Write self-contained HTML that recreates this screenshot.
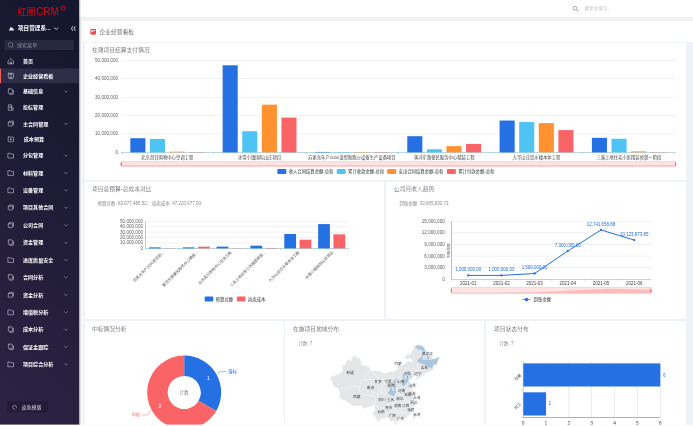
<!DOCTYPE html>
<html lang="zh-CN"><head><meta charset="utf-8"><title>企业经营看板 - 红圈CRM</title>
<style>
html,body{margin:0;padding:0;}
html{overflow:hidden;}body{width:693px;height:426px;overflow:hidden;position:relative;background:#f1f1f1;font-family:"Liberation Sans","Noto Sans CJK SC",sans-serif;}
#root{position:absolute;left:-8px;top:-8px;width:709px;height:442px;overflow:hidden;background:#f1f1f1;filter:blur(0.35px);}
#page{position:absolute;left:8px;top:8px;width:693px;height:426px;}
.abs{position:absolute;}
#sideback{left:-8px;top:-8px;width:86.8px;height:442px;background:linear-gradient(180deg,#15172e,#2b2141);}
#sidebar{left:0;top:0;width:78.8px;height:426px;background:linear-gradient(225deg,rgb(19,22,44),rgb(46,35,68));box-shadow:0.6px 0 1.2px rgba(0,0,0,.35);}
#topbar{left:79px;top:-8px;width:622px;height:25px;background:#fff;}
#gutter{left:79px;top:21px;width:4px;height:405px;background:#f6f6f6;}
#pagehead{left:83px;top:21px;width:618px;height:21.3px;background:#fff;}
#dash{left:83px;top:42.3px;width:618px;height:392px;background:#eef2f9;}
.panel{position:absolute;background:#fff;}
svg{position:absolute;left:0;top:0;overflow:visible;}
svg text{font-family:'Liberation Sans','Noto Sans CJK SC',sans-serif;}
</style></head><body><div id="root"><div id="page">
<div id="topbar" class="abs"></div>
<div id="gutter" class="abs"></div>
<div id="pagehead" class="abs"></div>
<div id="dash" class="abs"></div>
<div class="panel" style="left:85.3px;top:42.5px;width:600.5px;height:137.6px"></div>
<div class="panel" style="left:85.3px;top:181.8px;width:299.2px;height:137.2px"></div>
<div class="panel" style="left:386.0px;top:181.8px;width:299.8px;height:137.2px"></div>
<div class="panel" style="left:85.3px;top:320.6px;width:198.6px;height:106px"></div>
<div class="panel" style="left:285.4px;top:320.6px;width:198.9px;height:106px"></div>
<div class="panel" style="left:485.8px;top:320.6px;width:200.0px;height:106px"></div>
<div id="sideback" class="abs"></div><div id="sidebar" class="abs"></div>
<svg width="693" height="426" viewBox="0 0 693 426">
<g id="side">
<text x="17.5" y="14.6" font-size="9.2" fill="#e60012" textLength="17.9" lengthAdjust="spacingAndGlyphs">红圈</text><text x="36.2" y="14.9" font-size="10.6" fill="#e60012" textLength="22.6" lengthAdjust="spacingAndGlyphs">CRM</text>
<circle cx="63.3" cy="8.05" r="2.2" fill="none" stroke="#e60012" stroke-width="1"/>
<path d="M8.8,30.6 L11,26.6 L12.2,28.6 L13,27.6 L14,30.6 Z" fill="#e8e8ee"/>
<text x="18" y="30.4" font-size="5.6" font-weight="700" fill="#ffffff">项目管理系...</text>
<path d="M54.4,27.6 L56.3,29.5 L58.2,27.6" fill="none" stroke="#f0f0f5" stroke-width="0.85"/>
<path d="M72.6,26.3 Q70.6,28.5 72.6,30.7 M75.2,26.3 Q73.2,28.5 75.2,30.7" fill="none" stroke="#e8e8f0" stroke-width="0.9"/>
<rect x="4.4" y="40" width="69.6" height="10" rx="0.8" fill="#272841"/>
<circle cx="10.6" cy="44.8" r="2.3" fill="none" stroke="#8b8da3" stroke-width="0.6"/><path d="M12.3,46.6 L13.4,47.8" stroke="#8b8da3" stroke-width="0.6"/>
<text x="17" y="46.8" font-size="5.05" fill="#8a8ca2">搜索菜单</text>
<g transform="translate(10.9,61.3) scale(0.9) translate(-10.9,-61.3)"><path d="M8.0,61.0 L10.9,58.3 L13.8,61.0 V64.1 H8.0 Z" fill="none" stroke="#d4d5df" stroke-width="0.62" stroke-linejoin="round" stroke-linecap="round"/><path d="M10.1,64.1 V62.099999999999994 H11.700000000000001 V64.1" fill="none" stroke="#d4d5df" stroke-width="0.62" stroke-linejoin="round" stroke-linecap="round"/></g>
<text x="23" y="63.15" font-size="5.05" font-weight="700" fill="#ffffff">首页</text>
<rect x="-8" y="68.5" width="86.8" height="14.7" fill="#2d2d47"/>
<rect x="-8" y="68.5" width="9.1" height="14.7" fill="#ef5a55"/>
<g transform="translate(10.9,75.8) scale(0.9) translate(-10.9,-75.8)"><rect x="8.0" y="73.0" width="5.8" height="4.6" rx="0.6" fill="none" stroke="#d4d5df" stroke-width="0.62" stroke-linejoin="round" stroke-linecap="round"/><path d="M8.9,78.8 H12.9 M10.1,73.2 V75.2 H11.700000000000001 V73.2" fill="none" stroke="#d4d5df" stroke-width="0.62" stroke-linejoin="round" stroke-linecap="round"/></g>
<text x="23" y="77.64999999999999" font-size="5.05" font-weight="700" fill="#ffffff">企业经营看板</text>
<g transform="translate(10.9,91.6) scale(0.9) translate(-10.9,-91.6)"><rect x="8.100000000000001" y="88.6" width="4.4" height="5" rx="0.7" fill="none" stroke="#d4d5df" stroke-width="0.62" stroke-linejoin="round" stroke-linecap="round"/><path d="M9.700000000000001,94.6 H13.100000000000001 Q13.8,94.6 13.8,93.89999999999999 V90.19999999999999" fill="none" stroke="#d4d5df" stroke-width="0.62" stroke-linejoin="round" stroke-linecap="round"/></g>
<text x="23" y="93.44999999999999" font-size="5.05" font-weight="700" fill="#ffffff">基础信息</text>
<path d="M64.2,90.69999999999999 L65.9,92.39999999999999 L67.6,90.69999999999999" fill="none" stroke="#9597ad" stroke-width="0.65"/>
<g transform="translate(10.9,107.5) scale(0.9) translate(-10.9,-107.5)"><path d="M8.5,104.5 H11.700000000000001 V110.5 H8.5 Z M11.700000000000001,107.7 H13.5 V110.5 H11.700000000000001 M9.700000000000001,106.1 H10.700000000000001 M9.700000000000001,107.5 H10.700000000000001" fill="none" stroke="#d4d5df" stroke-width="0.62" stroke-linejoin="round" stroke-linecap="round"/></g>
<text x="23" y="109.35" font-size="5.05" font-weight="700" fill="#ffffff">投标管理</text>
<g transform="translate(10.9,123.7) scale(0.9) translate(-10.9,-123.7)"><rect x="8.0" y="122.10000000000001" width="4.6" height="4.2" rx="0.5" fill="none" stroke="#d4d5df" stroke-width="0.62" stroke-linejoin="round" stroke-linecap="round"/><path d="M9.3,120.9 H13.8 V124.9" fill="none" stroke="#d4d5df" stroke-width="0.62" stroke-linejoin="round" stroke-linecap="round"/></g>
<text x="23" y="125.55" font-size="5.05" font-weight="700" fill="#ffffff">主合同管理</text>
<path d="M64.2,122.8 L65.9,124.5 L67.6,122.8" fill="none" stroke="#9597ad" stroke-width="0.65"/>
<g transform="translate(10.9,139.4) scale(0.9) translate(-10.9,-139.4)"><rect x="7.9" y="136.8" width="6" height="5.2" rx="0.5" fill="none" stroke="#d4d5df" stroke-width="0.62" stroke-linejoin="round" stroke-linecap="round"/><rect x="10.1" y="138.6" width="1.6" height="1.6" fill="#d4d5df"/></g>
<text x="23.8" y="141.25" font-size="5.05" font-weight="700" fill="#ffffff">成本预算</text>
<g transform="translate(10.9,155.6) scale(0.9) translate(-10.9,-155.6)"><path d="M8.0,153.0 H10.3 L11.0,153.9 H13.8 V158.29999999999998 H8.0 Z" fill="none" stroke="#d4d5df" stroke-width="0.62" stroke-linejoin="round" stroke-linecap="round"/></g>
<text x="23" y="157.45" font-size="5.05" font-weight="700" fill="#ffffff">分包管理</text>
<path d="M64.2,154.7 L65.9,156.4 L67.6,154.7" fill="none" stroke="#9597ad" stroke-width="0.65"/>
<g transform="translate(10.9,173.0) scale(0.9) translate(-10.9,-173.0)"><path d="M8.0,170.4 H10.3 L11.0,171.3 H13.8 V175.7 H8.0 Z" fill="none" stroke="#d4d5df" stroke-width="0.62" stroke-linejoin="round" stroke-linecap="round"/></g>
<text x="23" y="174.85" font-size="5.05" font-weight="700" fill="#ffffff">材料管理</text>
<path d="M64.2,172.1 L65.9,173.8 L67.6,172.1" fill="none" stroke="#9597ad" stroke-width="0.65"/>
<g transform="translate(10.9,190.3) scale(0.9) translate(-10.9,-190.3)"><path d="M8.0,187.70000000000002 H10.3 L11.0,188.60000000000002 H13.8 V193.0 H8.0 Z" fill="none" stroke="#d4d5df" stroke-width="0.62" stroke-linejoin="round" stroke-linecap="round"/></g>
<text x="23" y="192.15" font-size="5.05" font-weight="700" fill="#ffffff">设备管理</text>
<path d="M64.2,189.4 L65.9,191.10000000000002 L67.6,189.4" fill="none" stroke="#9597ad" stroke-width="0.65"/>
<g transform="translate(10.9,207.6) scale(0.9) translate(-10.9,-207.6)"><rect x="8.0" y="206.0" width="4.6" height="4.2" rx="0.5" fill="none" stroke="#d4d5df" stroke-width="0.62" stroke-linejoin="round" stroke-linecap="round"/><path d="M9.3,204.79999999999998 H13.8 V208.79999999999998" fill="none" stroke="#d4d5df" stroke-width="0.62" stroke-linejoin="round" stroke-linecap="round"/></g>
<text x="23" y="209.45" font-size="5.05" font-weight="700" fill="#ffffff">项目其他合同</text>
<path d="M64.2,206.7 L65.9,208.4 L67.6,206.7" fill="none" stroke="#9597ad" stroke-width="0.65"/>
<g transform="translate(10.9,225.2) scale(0.9) translate(-10.9,-225.2)"><rect x="8.0" y="223.6" width="4.6" height="4.2" rx="0.5" fill="none" stroke="#d4d5df" stroke-width="0.62" stroke-linejoin="round" stroke-linecap="round"/><path d="M9.3,222.39999999999998 H13.8 V226.39999999999998" fill="none" stroke="#d4d5df" stroke-width="0.62" stroke-linejoin="round" stroke-linecap="round"/></g>
<text x="23" y="227.04999999999998" font-size="5.05" font-weight="700" fill="#ffffff">公司合同</text>
<path d="M64.2,224.29999999999998 L65.9,226.0 L67.6,224.29999999999998" fill="none" stroke="#9597ad" stroke-width="0.65"/>
<g transform="translate(10.9,242.6) scale(0.9) translate(-10.9,-242.6)"><rect x="8.100000000000001" y="239.6" width="4.4" height="5" rx="0.7" fill="none" stroke="#d4d5df" stroke-width="0.62" stroke-linejoin="round" stroke-linecap="round"/><path d="M9.700000000000001,245.6 H13.100000000000001 Q13.8,245.6 13.8,244.9 V241.2" fill="none" stroke="#d4d5df" stroke-width="0.62" stroke-linejoin="round" stroke-linecap="round"/></g>
<text x="23" y="244.45" font-size="5.05" font-weight="700" fill="#ffffff">资金管理</text>
<path d="M64.2,241.7 L65.9,243.4 L67.6,241.7" fill="none" stroke="#9597ad" stroke-width="0.65"/>
<g transform="translate(10.9,260.0) scale(0.9) translate(-10.9,-260.0)"><path d="M8.0,257.4 H10.3 L11.0,258.3 H13.8 V262.7 H8.0 Z" fill="none" stroke="#d4d5df" stroke-width="0.62" stroke-linejoin="round" stroke-linecap="round"/></g>
<text x="23" y="261.85" font-size="5.05" font-weight="700" fill="#ffffff">进度质量安全</text>
<path d="M64.2,259.1 L65.9,260.8 L67.6,259.1" fill="none" stroke="#9597ad" stroke-width="0.65"/>
<g transform="translate(10.9,277.4) scale(0.9) translate(-10.9,-277.4)"><rect x="8.100000000000001" y="274.4" width="4.4" height="5" rx="0.7" fill="none" stroke="#d4d5df" stroke-width="0.62" stroke-linejoin="round" stroke-linecap="round"/><path d="M9.700000000000001,280.4 H13.100000000000001 Q13.8,280.4 13.8,279.7 V276.0" fill="none" stroke="#d4d5df" stroke-width="0.62" stroke-linejoin="round" stroke-linecap="round"/></g>
<text x="23" y="279.25" font-size="5.05" font-weight="700" fill="#ffffff">合同分析</text>
<path d="M64.2,276.5 L65.9,278.2 L67.6,276.5" fill="none" stroke="#9597ad" stroke-width="0.65"/>
<g transform="translate(10.9,294.9) scale(0.9) translate(-10.9,-294.9)"><rect x="8.0" y="293.29999999999995" width="4.6" height="4.2" rx="0.5" fill="none" stroke="#d4d5df" stroke-width="0.62" stroke-linejoin="round" stroke-linecap="round"/><path d="M9.3,292.09999999999997 H13.8 V296.09999999999997" fill="none" stroke="#d4d5df" stroke-width="0.62" stroke-linejoin="round" stroke-linecap="round"/></g>
<text x="23" y="296.75" font-size="5.05" font-weight="700" fill="#ffffff">资金分析</text>
<path d="M64.2,294.0 L65.9,295.7 L67.6,294.0" fill="none" stroke="#9597ad" stroke-width="0.65"/>
<g transform="translate(10.9,312.3) scale(0.9) translate(-10.9,-312.3)"><path d="M8.0,309.7 H10.3 L11.0,310.6 H13.8 V315.0 H8.0 Z" fill="none" stroke="#d4d5df" stroke-width="0.62" stroke-linejoin="round" stroke-linecap="round"/></g>
<text x="23" y="314.15000000000003" font-size="5.05" font-weight="700" fill="#ffffff">增值税分析</text>
<path d="M64.2,311.40000000000003 L65.9,313.1 L67.6,311.40000000000003" fill="none" stroke="#9597ad" stroke-width="0.65"/>
<g transform="translate(10.9,329.6) scale(0.9) translate(-10.9,-329.6)"><rect x="8.100000000000001" y="326.6" width="4.4" height="5" rx="0.7" fill="none" stroke="#d4d5df" stroke-width="0.62" stroke-linejoin="round" stroke-linecap="round"/><path d="M9.700000000000001,332.6 H13.100000000000001 Q13.8,332.6 13.8,331.90000000000003 V328.20000000000005" fill="none" stroke="#d4d5df" stroke-width="0.62" stroke-linejoin="round" stroke-linecap="round"/></g>
<text x="23" y="331.45000000000005" font-size="5.05" font-weight="700" fill="#ffffff">成本分析</text>
<path d="M64.2,328.70000000000005 L65.9,330.40000000000003 L67.6,328.70000000000005" fill="none" stroke="#9597ad" stroke-width="0.65"/>
<g transform="translate(10.9,346.9) scale(0.9) translate(-10.9,-346.9)"><rect x="8.100000000000001" y="343.9" width="4.4" height="5" rx="0.7" fill="none" stroke="#d4d5df" stroke-width="0.62" stroke-linejoin="round" stroke-linecap="round"/><path d="M9.700000000000001,349.9 H13.100000000000001 Q13.8,349.9 13.8,349.2 V345.5" fill="none" stroke="#d4d5df" stroke-width="0.62" stroke-linejoin="round" stroke-linecap="round"/></g>
<text x="23" y="348.75" font-size="5.05" font-weight="700" fill="#ffffff">保证金跟踪</text>
<path d="M64.2,346.0 L65.9,347.7 L67.6,346.0" fill="none" stroke="#9597ad" stroke-width="0.65"/>
<g transform="translate(10.9,364.3) scale(0.9) translate(-10.9,-364.3)"><path d="M8.0,361.7 H10.3 L11.0,362.6 H13.8 V367.0 H8.0 Z" fill="none" stroke="#d4d5df" stroke-width="0.62" stroke-linejoin="round" stroke-linecap="round"/></g>
<text x="23" y="366.15000000000003" font-size="5.05" font-weight="700" fill="#ffffff">项目综合分析</text>
<path d="M64.2,363.40000000000003 L65.9,365.1 L67.6,363.40000000000003" fill="none" stroke="#9597ad" stroke-width="0.65"/>
<rect x="7.3" y="401.3" width="40.6" height="11.2" rx="1" fill="#000" fill-opacity="0.17"/>
<circle cx="14.6" cy="407.2" r="1.9" fill="none" stroke="#b9b6c8" stroke-width="0.6"/><circle cx="15.7" cy="408.4" r="0.8" fill="#251c3a"/>
<text x="21.4" y="409" font-size="5.05" fill="#d5d3df">皮肤模版</text>
</g>
<g id="top">
<circle cx="575" cy="8.2" r="1.9" fill="none" stroke="#959595" stroke-width="0.8"/><path d="M576.5,9.8 L578.4,11.8" stroke="#959595" stroke-width="0.9"/>
<text x="584.2" y="10.4" font-size="4.7" fill="#c2c4c8">搜索关键字...</text>
<rect x="571" y="13.6" width="8" height="0.4" fill="#ededed"/>
</g>
<g id="head">
<rect x="90.3" y="29" width="5.7" height="5.3" rx="0.9" fill="#f2484b"/>
<rect x="91.3" y="30" width="1.5" height="2.2" fill="#fff" opacity=".9"/><rect x="93.4" y="30" width="1.5" height="1.2" fill="#fff" opacity=".9"/>
<rect x="91.4" y="34.3" width="3.6" height="0.6" fill="#f2484b"/>
<text x="99.6" y="34.3" font-size="5.75" font-weight="300" fill="#333">企业经营看板</text>
</g>
<text x="92" y="52.2" font-size="5.78" font-weight="300" fill="#3c3c3c">在建项目结算支付情况</text>
<text x="92" y="191.4" font-size="5.78" font-weight="300" fill="#3c3c3c">项目总预算-总成本对比</text>
<text x="97.4" y="204.7" font-size="4.5" fill="#8a8a8a">预算总数: 83,677,485.52;&#160;&#160; 动态成本: 47,220,677.00;</text>
<text x="394" y="191.4" font-size="5.78" font-weight="300" fill="#3c3c3c">公司月收入趋势</text>
<text x="399.2" y="205" font-size="4.5" fill="#8a8a8a">到账金额: 33,665,632.73</text>
<text x="92" y="330.8" font-size="5.78" font-weight="300" fill="#3c3c3c">中标情况分析</text>
<text x="293" y="330.8" font-size="5.78" font-weight="300" fill="#3c3c3c">在施项目地域分布</text>
<text x="298.2" y="344.5" font-size="4.5" fill="#8a8a8a">计数: 7</text>
<text x="494.1" y="330.8" font-size="5.78" font-weight="300" fill="#3c3c3c">项目状态分布</text>
<text x="499.6" y="344.5" font-size="4.5" fill="#8a8a8a">计数: 7</text>
<g id="c1">
<text x="118" y="153.90" font-size="4.6" fill="#5e5e5e" text-anchor="end">0</text>
<rect x="121.1" y="133.78" width="553.9" height="0.45" fill="#dfe1e5"/>
<text x="118" y="135.48" font-size="4.6" fill="#5e5e5e" text-anchor="end">10,000,000</text>
<rect x="121.1" y="115.36" width="553.9" height="0.45" fill="#dfe1e5"/>
<text x="118" y="117.06" font-size="4.6" fill="#5e5e5e" text-anchor="end">20,000,000</text>
<rect x="121.1" y="96.94" width="553.9" height="0.45" fill="#dfe1e5"/>
<text x="118" y="98.64" font-size="4.6" fill="#5e5e5e" text-anchor="end">30,000,000</text>
<rect x="121.1" y="78.52" width="553.9" height="0.45" fill="#dfe1e5"/>
<text x="118" y="80.22" font-size="4.6" fill="#5e5e5e" text-anchor="end">40,000,000</text>
<rect x="121.1" y="60.10" width="553.9" height="0.45" fill="#dfe1e5"/>
<text x="118" y="61.80" font-size="4.6" fill="#5e5e5e" text-anchor="end">50,000,000</text>
<rect x="121.1" y="152.15" width="553.9" height="0.55" fill="#7fb6c6"/>
<rect x="120.90" y="152.4" width="0.45" height="1.6" fill="#7fb6c6"/>
<rect x="213.22" y="152.4" width="0.45" height="1.6" fill="#7fb6c6"/>
<rect x="305.53" y="152.4" width="0.45" height="1.6" fill="#7fb6c6"/>
<rect x="397.85" y="152.4" width="0.45" height="1.6" fill="#7fb6c6"/>
<rect x="490.17" y="152.4" width="0.45" height="1.6" fill="#7fb6c6"/>
<rect x="582.48" y="152.4" width="0.45" height="1.6" fill="#7fb6c6"/>
<rect x="674.80" y="152.4" width="0.45" height="1.6" fill="#7fb6c6"/>
<rect x="130.33" y="138.22" width="15.07" height="14.18" fill="#2570e3"/>
<rect x="149.93" y="138.95" width="15.07" height="13.45" fill="#4fc4f4"/>
<rect x="169.52" y="151.66" width="15.07" height="0.74" fill="#ff9130"/>
<rect x="189.11" y="152.12" width="15.07" height="0.28" fill="#fa6466"/>
<text x="167.26" y="158.9" font-size="4.33" fill="#444" text-anchor="middle">北京昌日购物中心空调工程</text>
<rect x="222.65" y="65.27" width="15.07" height="87.13" fill="#2570e3"/>
<rect x="242.24" y="131.22" width="15.07" height="21.18" fill="#4fc4f4"/>
<rect x="261.84" y="104.69" width="15.07" height="47.71" fill="#ff9130"/>
<rect x="281.43" y="117.59" width="15.07" height="34.81" fill="#fa6466"/>
<text x="259.57" y="158.9" font-size="4.33" fill="#444" text-anchor="middle">冰雪小镇国际山庄项目</text>
<rect x="314.97" y="151.94" width="15.07" height="0.46" fill="#2570e3"/>
<rect x="334.56" y="152.03" width="15.07" height="0.37" fill="#4fc4f4"/>
<rect x="354.15" y="152.03" width="15.07" height="0.37" fill="#ff9130"/>
<rect x="373.75" y="152.03" width="15.07" height="0.37" fill="#fa6466"/>
<text x="351.89" y="158.9" font-size="4.33" fill="#444" text-anchor="middle">苏家允年产2000变型助跑沙设备生产设备项目</text>
<rect x="407.28" y="136.19" width="15.07" height="16.21" fill="#2570e3"/>
<rect x="426.88" y="149.27" width="15.07" height="3.13" fill="#4fc4f4"/>
<rect x="446.47" y="146.14" width="15.07" height="6.26" fill="#ff9130"/>
<rect x="466.06" y="143.93" width="15.07" height="8.47" fill="#fa6466"/>
<text x="444.21" y="158.9" font-size="4.33" fill="#444" text-anchor="middle">黄河东路便民服务中心精装工程</text>
<rect x="499.60" y="120.53" width="15.07" height="31.87" fill="#2570e3"/>
<rect x="519.19" y="122.01" width="15.07" height="30.39" fill="#4fc4f4"/>
<rect x="538.79" y="123.11" width="15.07" height="29.29" fill="#ff9130"/>
<rect x="558.38" y="130.11" width="15.07" height="22.29" fill="#fa6466"/>
<text x="536.52" y="158.9" font-size="4.33" fill="#444" text-anchor="middle">九华山庄饮水楼本体工程</text>
<rect x="591.91" y="137.85" width="15.07" height="14.55" fill="#2570e3"/>
<rect x="611.51" y="138.77" width="15.07" height="13.63" fill="#4fc4f4"/>
<rect x="631.10" y="151.39" width="15.07" height="1.01" fill="#ff9130"/>
<rect x="650.70" y="152.12" width="15.07" height="0.28" fill="#fa6466"/>
<text x="628.84" y="158.9" font-size="4.33" fill="#444" text-anchor="middle">三溪上地住宅小区精装修第一阶段</text>
<rect x="120.6" y="161.7" width="555.4" height="4.9" fill="#fde3e3"/>
<rect x="120.6" y="165.4" width="555.4" height="1.2" fill="#fbb5b5"/>
<rect x="120.6" y="161.6" width="555.4" height="0.4" fill="#f9a5a5"/>
<path d="M120.2,164.1 L121.8,161.6 V166.6 Z" fill="#f56c6c"/><path d="M676.6,164.1 L675,161.6 V166.6 Z" fill="#f56c6c"/>
<rect x="277.3" y="168.9" width="9" height="5" rx="1" fill="#2570e3"/>
<text x="288.7" y="172.9" font-size="4.33" fill="#333">收入合同结算金额-总和</text>
<rect x="336.7" y="168.9" width="9" height="5" rx="1" fill="#4fc4f4"/>
<text x="348.09999999999997" y="172.9" font-size="4.33" fill="#333">累计收款金额-总和</text>
<rect x="387.2" y="168.9" width="9" height="5" rx="1" fill="#ff9130"/>
<text x="398.59999999999997" y="172.9" font-size="4.33" fill="#333">支出合同结算金额-总和</text>
<rect x="446.9" y="168.9" width="9" height="5" rx="1" fill="#fa6466"/>
<text x="458.29999999999995" y="172.9" font-size="4.33" fill="#333">累计付款金额-总和</text>
</g>
<g id="c2">
<text x="143" y="249.90" font-size="4.6" fill="#5e5e5e" text-anchor="end">0</text>
<rect x="145.5" y="242.76" width="203.10000000000002" height="0.45" fill="#dfe1e5"/>
<text x="143" y="244.46" font-size="4.6" fill="#5e5e5e" text-anchor="end">10,000,000</text>
<rect x="145.5" y="237.32" width="203.10000000000002" height="0.45" fill="#dfe1e5"/>
<text x="143" y="239.02" font-size="4.6" fill="#5e5e5e" text-anchor="end">20,000,000</text>
<rect x="145.5" y="231.88" width="203.10000000000002" height="0.45" fill="#dfe1e5"/>
<text x="143" y="233.58" font-size="4.6" fill="#5e5e5e" text-anchor="end">30,000,000</text>
<rect x="145.5" y="226.44" width="203.10000000000002" height="0.45" fill="#dfe1e5"/>
<text x="143" y="228.14" font-size="4.6" fill="#5e5e5e" text-anchor="end">40,000,000</text>
<rect x="145.5" y="221.00" width="203.10000000000002" height="0.45" fill="#dfe1e5"/>
<text x="143" y="222.70" font-size="4.6" fill="#5e5e5e" text-anchor="end">50,000,000</text>
<rect x="145.25" y="221.2" width="0.5" height="27.200000000000003" fill="#888"/>
<rect x="145.5" y="248.15" width="203.10000000000002" height="0.55" fill="#7fb6c6"/>
<rect x="145.30" y="248.4" width="0.45" height="1.5" fill="#7fb6c6"/>
<rect x="179.15" y="248.4" width="0.45" height="1.5" fill="#7fb6c6"/>
<rect x="213.00" y="248.4" width="0.45" height="1.5" fill="#7fb6c6"/>
<rect x="246.85" y="248.4" width="0.45" height="1.5" fill="#7fb6c6"/>
<rect x="280.70" y="248.4" width="0.45" height="1.5" fill="#7fb6c6"/>
<rect x="314.55" y="248.4" width="0.45" height="1.5" fill="#7fb6c6"/>
<rect x="348.40" y="248.4" width="0.45" height="1.5" fill="#7fb6c6"/>
<rect x="148.88" y="247.37" width="11.77" height="1.03" fill="#2570e3"/>
<rect x="164.19" y="248.21" width="11.77" height="0.19" fill="#fa6466"/>
<text transform="translate(164.33,252.70) rotate(-45)" font-size="3.8" fill="#555" text-anchor="end">苏家允年产2000变型助...</text>
<rect x="182.73" y="247.37" width="11.77" height="1.03" fill="#2570e3"/>
<rect x="198.04" y="246.66" width="11.77" height="1.74" fill="#fa6466"/>
<text transform="translate(198.18,252.70) rotate(-45)" font-size="3.8" fill="#555" text-anchor="end">黄河东路便民服务中心精装...</text>
<rect x="216.58" y="246.66" width="11.77" height="1.74" fill="#2570e3"/>
<rect x="231.89" y="248.18" width="11.77" height="0.22" fill="#fa6466"/>
<text transform="translate(232.03,252.70) rotate(-45)" font-size="3.8" fill="#555" text-anchor="end">北京昌日购物中心空调工程</text>
<rect x="250.44" y="245.68" width="11.77" height="2.72" fill="#2570e3"/>
<rect x="265.74" y="247.96" width="11.77" height="0.44" fill="#fa6466"/>
<text transform="translate(265.88,252.70) rotate(-45)" font-size="3.8" fill="#555" text-anchor="end">三溪上地住宅小区精装修第...</text>
<rect x="284.28" y="233.98" width="11.77" height="14.42" fill="#2570e3"/>
<rect x="299.59" y="239.75" width="11.77" height="8.65" fill="#fa6466"/>
<text transform="translate(299.73,252.70) rotate(-45)" font-size="3.8" fill="#555" text-anchor="end">九华山庄饮水楼本体工程</text>
<rect x="318.13" y="224.08" width="11.77" height="24.32" fill="#2570e3"/>
<rect x="333.44" y="234.36" width="11.77" height="14.04" fill="#fa6466"/>
<text transform="translate(333.57,252.70) rotate(-45)" font-size="3.8" fill="#555" text-anchor="end">冰雪小镇国际山庄项目</text>
<rect x="204.7" y="296.6" width="8.6" height="5" rx="1" fill="#2570e3"/>
<text x="215.6" y="300.7" font-size="4.4" fill="#333">预算总额</text>
<rect x="236.9" y="296.6" width="8.6" height="5" rx="1" fill="#fa6466"/>
<text x="247.8" y="300.7" font-size="4.4" fill="#333">动态成本</text>
</g>
<g id="c3">
<text x="444.8" y="280.80" font-size="4.6" fill="#5e5e5e" text-anchor="end">0</text>
<rect x="451.6" y="267.48" width="199.19999999999993" height="0.45" fill="#dfe1e5"/>
<text x="444.8" y="269.18" font-size="4.6" fill="#5e5e5e" text-anchor="end">3,000,000</text>
<rect x="451.6" y="255.86" width="199.19999999999993" height="0.45" fill="#dfe1e5"/>
<text x="444.8" y="257.56" font-size="4.6" fill="#5e5e5e" text-anchor="end">6,000,000</text>
<rect x="451.6" y="244.24" width="199.19999999999993" height="0.45" fill="#dfe1e5"/>
<text x="444.8" y="245.94" font-size="4.6" fill="#5e5e5e" text-anchor="end">9,000,000</text>
<rect x="451.6" y="232.62" width="199.19999999999993" height="0.45" fill="#dfe1e5"/>
<text x="444.8" y="234.32" font-size="4.6" fill="#5e5e5e" text-anchor="end">12,000,000</text>
<rect x="451.6" y="221.00" width="199.19999999999993" height="0.45" fill="#dfe1e5"/>
<text x="444.8" y="222.70" font-size="4.6" fill="#5e5e5e" text-anchor="end">15,000,000</text>
<rect x="451.3" y="221.20000000000002" width="0.6" height="58.099999999999994" fill="#8a8f96"/>
<rect x="451.6" y="279.05" width="199.19999999999993" height="0.55" fill="#7fb6c6"/>
<rect x="451.40" y="279.3" width="0.45" height="1.5" fill="#7fb6c6"/>
<rect x="484.60" y="279.3" width="0.45" height="1.5" fill="#7fb6c6"/>
<rect x="517.80" y="279.3" width="0.45" height="1.5" fill="#7fb6c6"/>
<rect x="551.00" y="279.3" width="0.45" height="1.5" fill="#7fb6c6"/>
<rect x="584.20" y="279.3" width="0.45" height="1.5" fill="#7fb6c6"/>
<rect x="617.40" y="279.3" width="0.45" height="1.5" fill="#7fb6c6"/>
<rect x="650.60" y="279.3" width="0.45" height="1.5" fill="#7fb6c6"/>
<text transform="translate(449.6,250.5) rotate(-90)" font-size="3.6" fill="#666" text-anchor="middle">到账金额</text>
<polyline points="468.20,275.43 501.40,275.43 534.60,273.49 567.80,251.02 601.00,229.95 634.20,240.09" fill="none" stroke="#2570e3" stroke-width="1.0" stroke-linejoin="round"/>
<circle cx="468.20" cy="275.43" r="1.15" fill="#2570e3"/>
<text x="468.20" y="271.33" font-size="4.45" fill="#2570e3" text-anchor="middle">1,000,000.00</text>
<text x="468.20" y="285.4" font-size="4.5" fill="#444" text-anchor="middle">2021-01</text>
<circle cx="501.40" cy="275.43" r="1.15" fill="#2570e3"/>
<text x="501.40" y="271.33" font-size="4.45" fill="#2570e3" text-anchor="middle">1,000,000.00</text>
<text x="501.40" y="285.4" font-size="4.5" fill="#444" text-anchor="middle">2021-02</text>
<circle cx="534.60" cy="273.49" r="1.15" fill="#2570e3"/>
<text x="534.60" y="269.39" font-size="4.45" fill="#2570e3" text-anchor="middle">1,500,000.00</text>
<text x="534.60" y="285.4" font-size="4.5" fill="#444" text-anchor="middle">2021-03</text>
<circle cx="567.80" cy="251.02" r="1.15" fill="#2570e3"/>
<text x="567.80" y="246.92" font-size="4.45" fill="#2570e3" text-anchor="middle">7,300,000.00</text>
<text x="567.80" y="285.4" font-size="4.5" fill="#444" text-anchor="middle">2021-04</text>
<circle cx="601.00" cy="229.95" r="1.15" fill="#2570e3"/>
<text x="601.00" y="225.85" font-size="4.45" fill="#2570e3" text-anchor="middle">12,741,658.88</text>
<text x="601.00" y="285.4" font-size="4.5" fill="#444" text-anchor="middle">2021-05</text>
<circle cx="634.20" cy="240.09" r="1.15" fill="#2570e3"/>
<text x="634.20" y="235.99" font-size="4.45" fill="#2570e3" text-anchor="middle">10,123,973.85</text>
<text x="634.20" y="285.4" font-size="4.5" fill="#444" text-anchor="middle">2021-06</text>
<rect x="451" y="287.6" width="200.4" height="5.7" fill="#fde3e3"/>
<path d="M451,293.3 L451.0,292.67 L491.1,292.67 L531.2,292.51 L571.2,290.59 L611.3,288.80 L651.4,289.66 L651.4,293.3 Z" fill="#fbbcbc"/>
<rect x="451" y="287.5" width="200.4" height="0.4" fill="#f9a5a5"/><rect x="451" y="293.0" width="200.4" height="0.4" fill="#f9a5a5"/>
<path d="M450.5,290.4 L452,287.6 V293.3 Z" fill="#f56c6c"/><path d="M652,290.4 L650.5,287.6 V293.3 Z" fill="#f56c6c"/>
<rect x="522.3" y="299.3" width="8.3" height="0.7" fill="#2570e3"/><circle cx="526.5" cy="299.6" r="1.8" fill="#2570e3"/>
<text x="533.6" y="301.2" font-size="4.4" fill="#333">到账金额</text>
</g>
<g id="pie">
<path d="M184.20,355.50 A37.0,37.0 0 0 1 216.24,411.00 L198.49,400.75 A16.5,16.5 0 0 0 184.20,376.00 Z" fill="#2570e3"/>
<path d="M216.24,411.00 A37.0,37.0 0 1 1 184.20,355.50 L184.20,376.00 A16.5,16.5 0 1 0 198.49,400.75 Z" fill="#fa6466"/>
<text x="184.2" y="394.0" font-size="4.33" fill="#777" text-anchor="middle">计数</text>
<text x="208.3" y="380.1" font-size="5" fill="#fff" text-anchor="middle">1</text>
<text x="159.8" y="408.4" font-size="5" fill="#fff" text-anchor="middle">2</text>
<path d="M216.6,374.6 L219.6,371.6 H226.4" fill="none" stroke="#2570e3" stroke-width="0.45"/>
<text x="228" y="372.9" font-size="4.6" fill="#2570e3">落标</text>
<path d="M151.2,410 L147.6,415 H142" fill="none" stroke="#fa6466" stroke-width="0.45"/>
<text x="140.4" y="416.3" font-size="4.33" fill="#fa6466" text-anchor="end">中标</text>
</g>
<g id="hb">
<text x="523.10" y="424.7" font-size="4.9" fill="#444" text-anchor="middle">0</text>
<rect x="545.77" y="361.1" width="0.45" height="56.299999999999955" fill="#d3d6da"/>
<text x="545.97" y="424.7" font-size="4.9" fill="#444" text-anchor="middle">1</text>
<rect x="568.63" y="361.1" width="0.45" height="56.299999999999955" fill="#d3d6da"/>
<text x="568.83" y="424.7" font-size="4.9" fill="#444" text-anchor="middle">2</text>
<rect x="591.50" y="361.1" width="0.45" height="56.299999999999955" fill="#d3d6da"/>
<text x="591.70" y="424.7" font-size="4.9" fill="#444" text-anchor="middle">3</text>
<rect x="614.37" y="361.1" width="0.45" height="56.299999999999955" fill="#d3d6da"/>
<text x="614.57" y="424.7" font-size="4.9" fill="#444" text-anchor="middle">4</text>
<rect x="637.23" y="361.1" width="0.45" height="56.299999999999955" fill="#d3d6da"/>
<text x="637.43" y="424.7" font-size="4.9" fill="#444" text-anchor="middle">5</text>
<rect x="660.10" y="361.1" width="0.45" height="56.299999999999955" fill="#d3d6da"/>
<text x="660.30" y="424.7" font-size="4.9" fill="#444" text-anchor="middle">6</text>
<rect x="523.1" y="363.4" width="137.20" height="23.1" fill="#2570e3"/>
<rect x="523.1" y="392.3" width="22.87" height="23.2" fill="#2570e3"/>
<rect x="522.85" y="361.1" width="0.55" height="56.299999999999955" fill="#7fb6c6"/>
<rect x="523.1" y="417.09999999999997" width="137.20" height="0.6" fill="#808080"/>
<rect x="521.6" y="360.90" width="1.5" height="0.45" fill="#7fb6c6"/>
<rect x="521.6" y="389.05" width="1.5" height="0.45" fill="#7fb6c6"/>
<rect x="521.6" y="417.20" width="1.5" height="0.45" fill="#7fb6c6"/>
<text x="663" y="376.5" font-size="4.6" fill="#2570e3">6</text>
<text x="548.57" y="405.4" font-size="4.6" fill="#2570e3">1</text>
<text transform="translate(521.4,375.6) rotate(-45)" font-size="3.9" fill="#444" text-anchor="end">在施</text>
<text transform="translate(521.4,404.3) rotate(-45)" font-size="3.9" fill="#444" text-anchor="end">完工</text>
</g>
<g id="map"><path d="M415.5,345.6 L417.1,345.3 L419.2,345.0 L421.5,345.9 L422.8,346.2 L423.5,347.0 L424.4,348.5 L425.3,350.4 L425.8,351.8 L426.2,353.0 L426.4,353.9 L428.3,354.4 L429.7,354.9 L431.0,356.1 L431.9,357.0 L431.9,358.4 L432.4,358.9 L435.1,358.9 L436.0,358.0 L438.5,357.3 L439.7,357.1 L438.8,358.2 L438.1,359.9 L437.6,362.2 L436.9,363.4 L436.1,365.1 L434.2,364.7 L433.3,365.6 L432.8,367.7 L432.9,369.1 L432.6,370.3 L431.7,371.5 L431.0,370.2 L430.4,370.2 L429.2,372.0 L428.7,372.5 L427.2,372.5 L425.6,373.6 L425.1,372.9 L423.9,374.6 L422.3,375.8 L420.7,377.0 L420.5,377.4 L419.1,377.9 L417.3,378.9 L415.8,379.7 L414.9,380.2 L415.5,378.4 L416.4,376.7 L416.7,375.8 L416.0,375.1 L414.6,375.3 L413.7,376.7 L412.1,377.4 L411.0,379.1 L409.3,379.1 L408.7,379.8 L408.5,380.8 L409.6,382.0 L410.9,382.2 L411.4,382.4 L411.0,383.6 L411.9,384.1 L412.8,383.4 L414.1,382.4 L415.5,383.1 L417.4,383.4 L417.3,384.6 L415.5,385.0 L414.1,386.2 L413.2,386.8 L411.9,388.4 L411.4,389.3 L412.5,390.5 L413.5,391.7 L414.2,393.8 L415.3,395.7 L416.2,396.9 L416.2,398.8 L415.1,399.5 L413.9,400.2 L415.3,400.5 L416.4,401.2 L416.2,402.9 L415.7,404.0 L415.5,405.2 L414.4,406.2 L413.7,407.8 L412.8,408.8 L412.1,410.2 L411.9,411.6 L411.0,412.4 L410.3,413.8 L409.3,414.5 L408.0,415.9 L406.9,416.9 L405.3,418.1 L403.9,418.3 L402.7,419.0 L401.4,419.2 L401.2,419.7 L400.0,420.4 L398.2,420.9 L396.4,421.4 L395.9,422.1 L395.7,423.8 L395.0,424.0 L394.7,422.8 L394.5,421.4 L393.6,421.1 L392.3,420.7 L391.4,421.1 L390.4,420.9 L389.3,420.2 L389.0,419.0 L389.1,418.1 L387.7,417.8 L386.6,416.9 L385.7,417.8 L384.9,418.3 L384.1,418.8 L383.1,418.3 L381.6,418.3 L381.1,419.0 L380.6,419.0 L380.0,419.5 L380.4,421.9 L379.3,421.9 L378.3,421.1 L377.4,420.9 L377.0,419.7 L375.9,419.7 L375.9,418.1 L375.2,417.1 L374.9,415.4 L373.1,415.4 L372.8,413.5 L373.8,412.1 L374.9,410.7 L374.9,408.1 L374.3,406.7 L373.8,405.5 L372.7,404.8 L372.4,405.2 L371.9,406.2 L370.4,406.7 L368.8,407.1 L366.9,407.6 L365.3,408.2 L363.1,408.4 L362.6,407.1 L362.2,406.2 L360.3,405.5 L359.0,405.2 L357.6,406.9 L357.4,407.4 L357.2,405.7 L356.0,405.9 L354.4,406.1 L353.2,405.7 L352.3,405.7 L351.7,405.0 L350.7,404.3 L349.1,403.6 L348.5,402.6 L347.3,401.9 L345.5,400.7 L344.1,400.0 L343.4,400.5 L341.9,399.5 L341.4,398.8 L340.2,398.3 L339.4,397.9 L339.3,396.4 L338.7,395.0 L339.8,395.3 L340.7,394.4 L339.8,393.4 L339.4,392.2 L339.3,391.2 L338.5,390.0 L338.0,387.9 L335.9,387.5 L334.8,387.1 L334.3,386.5 L334.1,385.0 L333.4,384.4 L332.0,384.2 L332.5,383.7 L332.3,382.0 L332.3,380.8 L330.5,380.5 L330.2,378.5 L330.7,377.7 L332.3,376.1 L333.7,375.8 L335.3,376.1 L336.1,374.8 L338.2,374.7 L338.7,373.9 L341.2,372.7 L341.9,372.3 L342.0,370.6 L343.0,369.7 L342.3,367.5 L342.3,366.3 L341.4,365.6 L342.8,365.0 L345.1,364.9 L346.2,364.6 L345.7,363.9 L346.9,360.1 L351.4,360.5 L351.8,357.3 L353.3,356.9 L353.7,355.6 L355.5,355.4 L355.8,356.8 L356.9,357.7 L358.7,358.2 L359.6,358.4 L361.2,360.8 L361.0,364.6 L362.2,365.1 L365.6,365.4 L369.0,367.0 L370.6,370.7 L372.2,370.6 L376.3,371.1 L380.4,371.3 L383.3,372.7 L385.9,373.3 L389.3,371.7 L393.8,371.4 L395.7,370.6 L398.4,368.4 L397.5,366.9 L398.4,365.2 L401.4,365.9 L403.0,364.4 L405.2,364.3 L406.8,362.2 L408.2,361.5 L409.8,361.2 L412.3,361.5 L412.6,361.3 L412.5,360.3 L411.2,358.9 L410.1,358.3 L408.9,359.0 L407.7,358.7 L405.5,358.9 L404.8,357.8 L406.9,353.9 L408.9,354.6 L410.3,353.6 L411.6,352.7 L411.6,352.0 L413.0,349.5 L414.1,347.5 L412.8,346.8 L414.4,345.6 Z M414.6,412.8 L415.7,412.1 L416.4,412.8 L416.0,414.0 L415.3,417.3 L414.4,420.0 L413.9,419.0 L413.0,417.3 L413.2,415.7 L414.1,413.8 Z M396.3,424.5 L396.8,425.7 L395.9,427.6 L395.0,428.5 L394.1,429.0 L392.7,428.3 L392.5,426.4 L393.6,424.9 L395.0,424.5 Z" fill="#e4e6e8" stroke="#f4f5f6" stroke-width="0.4"/><path d="M340.7,390.3 L342.1,388.1 L345.1,388.1 L348.7,388.1 L352.3,386.2 L355.8,385.8 L358.9,386.5 L361.2,384.6 L360.8,381.5 L363.8,379.3 L366.0,375.1 L368.5,372.9 L370.6,370.7" fill="none" stroke="#f9fafb" stroke-width="0.55"/><path d="M358.9,386.5 L359.0,389.6 L360.3,391.9 L362.9,394.1 L365.6,395.0 L368.3,395.5 L371.0,396.2 L372.6,395.0 L374.7,397.9 L375.4,401.0 L375.4,403.1 L374.7,405.0 L373.8,405.5" fill="none" stroke="#f9fafb" stroke-width="0.55"/><path d="M363.8,379.3 L366.5,380.1 L370.1,379.1 L372.7,379.1 L375.4,380.5 L378.1,382.0 L379.9,382.9 L381.6,383.9 L382.5,386.0 L381.8,387.7 L380.9,390.5 L380.8,392.9 L379.3,394.5 L377.9,394.5 L376.3,393.8 L374.3,391.5 L372.6,395.0" fill="none" stroke="#f9fafb" stroke-width="0.55"/><path d="M380.8,392.9 L382.9,392.2 L384.9,393.8 L387.2,394.1" fill="none" stroke="#f9fafb" stroke-width="0.55"/><path d="M372.2,370.6 L373.6,374.8 L376.3,375.8 L378.1,378.4 L380.4,379.3 L383.4,378.9 L384.7,381.2 L384.0,382.9 L385.2,383.6 L386.5,382.9 L387.7,380.3 L389.3,378.9 L389.5,381.5 L390.2,384.1" fill="none" stroke="#f9fafb" stroke-width="0.55"/><path d="M385.2,383.6 L387.2,385.0 L388.6,387.4 L389.1,389.1" fill="none" stroke="#f9fafb" stroke-width="0.55"/><path d="M389.3,378.9 L390.6,377.9 L393.2,378.4 L395.4,378.6 L397.3,378.2 L399.5,376.7 L402.3,375.5" fill="none" stroke="#f9fafb" stroke-width="0.55"/><path d="M374.7,405.0 L375.8,405.2 L377.4,406.2 L378.6,409.0 L380.4,410.0 L382.4,409.7 L383.8,408.1 L384.9,406.9 L386.6,406.4 L387.2,404.3 L388.6,404.5 L388.2,402.4 L387.0,401.7 L387.5,399.5 L389.7,400.7 L391.3,399.1 L392.3,397.4 L393.2,397.4 L394.1,396.8" fill="none" stroke="#f9fafb" stroke-width="0.55"/><path d="M384.9,406.9 L385.4,409.3 L385.2,411.9 L386.1,413.8 L387.7,413.5 L389.0,412.6 L390.6,412.4 L392.2,411.6 L393.9,410.9 L394.1,408.8 L393.4,407.1 L393.8,404.8 L392.5,404.0 L392.0,402.1 L392.3,400.0 L393.9,399.1 L395.2,397.6 L395.2,394.8" fill="none" stroke="#f9fafb" stroke-width="0.55"/><path d="M386.1,413.8 L387.0,416.2 L387.7,417.8" fill="none" stroke="#f9fafb" stroke-width="0.55"/><path d="M393.9,410.9 L396.1,410.5 L397.5,412.6 L398.6,413.5 L398.4,415.7 L397.5,417.8 L396.1,419.5 L394.5,421.4" fill="none" stroke="#f9fafb" stroke-width="0.55"/><path d="M398.6,413.5 L400.3,412.1 L403.0,412.4 L405.5,413.3 L407.3,415.4 L407.8,416.2" fill="none" stroke="#f9fafb" stroke-width="0.55"/><path d="M402.1,412.1 L402.0,410.0 L402.0,406.9 L402.1,404.0 L402.0,403.1 L403.7,402.1 L405.7,401.4 L406.6,401.0" fill="none" stroke="#f9fafb" stroke-width="0.55"/><path d="M393.8,404.8 L395.9,401.2 L398.2,401.2 L400.3,402.1 L402.0,403.1" fill="none" stroke="#f9fafb" stroke-width="0.55"/><path d="M405.5,413.3 L406.6,411.4 L407.3,409.0 L408.7,406.9 L410.1,405.0 L410.0,402.4 L409.4,401.0 L408.0,401.0 L406.6,401.0 L405.5,398.6 L404.6,397.4 L405.3,395.3 L403.9,394.1" fill="none" stroke="#f9fafb" stroke-width="0.55"/><path d="M410.1,405.0 L411.9,406.7 L413.5,407.6" fill="none" stroke="#f9fafb" stroke-width="0.55"/><path d="M410.0,402.4 L411.7,400.0 L412.1,398.3 L413.7,398.6 L414.6,398.8 L415.1,399.5" fill="none" stroke="#f9fafb" stroke-width="0.55"/><path d="M412.1,398.3 L410.7,397.4 L410.9,395.3 L410.0,393.8 L409.6,390.7 L407.8,390.3 L406.4,390.0 L406.0,391.5 L405.0,391.2 L403.9,393.1 L403.9,394.1 L401.6,395.3 L399.5,395.3 L397.7,393.1 L396.8,393.1 L396.1,393.4" fill="none" stroke="#f9fafb" stroke-width="0.55"/><path d="M407.8,390.3 L409.8,390.5 L411.4,389.3" fill="none" stroke="#f9fafb" stroke-width="0.55"/><path d="M396.8,391.5 L397.3,389.6 L399.5,388.6 L401.4,387.4 L402.5,386.2" fill="none" stroke="#f9fafb" stroke-width="0.55"/><path d="M404.6,385.8 L404.6,386.9 L405.9,389.1 L406.4,390.0" fill="none" stroke="#f9fafb" stroke-width="0.55"/><path d="M406.4,377.2 L408.0,375.8 L407.8,377.2 L406.8,378.2 L404.8,378.4 L405.0,376.3 L406.4,375.1 L408.0,375.8" fill="none" stroke="#f9fafb" stroke-width="0.55"/><path d="M407.8,377.2 L409.1,378.9 L408.4,380.3 L407.1,380.1 L407.1,378.2 L407.8,377.2" fill="none" stroke="#f9fafb" stroke-width="0.55"/><path d="M411.4,374.1 L412.6,372.2 L414.4,371.5 L417.1,370.8 L419.1,370.3 L419.9,371.0 L421.5,370.6 L423.0,372.9 L424.4,373.9 L425.1,372.9" fill="none" stroke="#f9fafb" stroke-width="0.55"/><path d="M419.1,370.3 L419.2,368.7 L418.0,367.0 L416.6,365.3 L417.4,363.0" fill="none" stroke="#f9fafb" stroke-width="0.55"/><path d="M395.9,387.7 L397.7,388.6 L399.5,388.6" fill="none" stroke="#f9fafb" stroke-width="0.55"/><path d="M415.5,345.6 L417.1,345.3 L419.2,345.0 L421.5,345.9 L422.8,346.2 L423.5,347.0 L424.4,348.5 L425.3,350.4 L425.8,351.8 L426.2,353.0 L426.4,353.9 L428.3,354.4 L429.7,354.9 L431.0,356.1 L431.9,357.0 L431.9,358.4 L432.4,358.9 L435.1,358.9 L436.0,358.0 L438.5,357.3 L439.7,357.1 L438.8,358.2 L438.1,359.9 L437.6,362.2 L436.9,363.4 L436.1,365.1 L434.2,364.7 L433.3,365.6 L432.8,367.7 L432.9,369.1 L431.3,368.4 L430.4,367.9 L428.8,367.7 L427.4,366.8 L426.2,366.3 L425.3,365.3 L423.5,364.9 L422.8,364.1 L421.4,364.1 L419.9,363.2 L418.5,362.5 L417.4,363.0 L417.1,360.8 L417.8,359.6 L418.9,358.4 L420.8,357.0 L421.7,355.4 L422.3,354.2 L423.1,352.5 L422.3,351.1 L420.7,350.1 L418.9,350.4 L417.6,349.4 L416.2,348.0 L415.0,347.3 Z" fill="#a9c6de" stroke="#f4f5f6" stroke-width="0.4"/><path d="M412.1,377.4 L411.0,379.1 L409.3,379.1 L408.7,379.8 L408.5,380.8 L409.1,381.5 L408.4,382.0 L407.3,382.4 L406.4,383.4 L405.5,384.6 L404.6,385.8 L403.7,386.5 L402.5,386.2 L401.2,385.8 L401.6,384.3 L402.1,382.7 L401.8,381.5 L402.0,379.8 L402.7,379.1 L402.8,377.7 L402.0,377.0 L402.3,375.5 L402.1,373.6 L403.7,373.4 L404.4,372.7 L405.7,372.5 L407.1,371.5 L408.4,371.0 L409.3,371.5 L410.9,372.7 L411.4,374.1 L410.9,375.1 L411.9,376.0 Z" fill="#a9c6de" stroke="#f4f5f6" stroke-width="0.4"/><path d="M396.6,378.4 L397.0,379.6 L396.1,380.8 L395.9,382.7 L396.4,384.3 L395.7,386.0 L395.9,387.7 L395.5,390.0 L396.8,391.5 L396.1,393.4 L395.0,393.4 L395.2,394.8 L394.1,396.8 L392.3,396.0 L390.2,395.0 L388.1,394.3 L387.2,394.1 L387.9,392.2 L389.0,390.7 L389.1,389.1 L390.7,388.4 L392.5,388.4 L392.5,385.8 L391.4,385.0 L390.2,384.1 L390.7,382.7 L392.9,382.0 L393.2,381.0 L394.3,379.8 L395.4,378.6 Z" fill="#a9c6de" stroke="#f4f5f6" stroke-width="0.4"/><rect x="422.6" y="352.2" width="9.8" height="7.6" fill="#dfe9f2" opacity=".85"/><rect x="404.2" y="372.4" width="6.8" height="6.6" fill="#dbe6f0" opacity=".8"/><rect x="388.2" y="384.2" width="6" height="6.8" fill="#dbe6f0" opacity=".8"/><text x="350.2" y="374.0" font-size="3.6" fill="#444" text-anchor="middle">新疆</text><text x="356.7" y="397.7" font-size="3.6" fill="#444" text-anchor="middle">西藏</text><text x="370.4" y="389.0" font-size="3.6" fill="#444" text-anchor="middle">青海</text><text x="377.9" y="383.2" font-size="3.6" fill="#444" text-anchor="middle">甘肃</text><text x="388.0" y="383.2" font-size="3.6" fill="#444" text-anchor="middle">宁夏</text><text x="398.0" y="364.8" font-size="3.6" fill="#444" text-anchor="middle">内蒙</text><text x="382.0" y="401.2" font-size="3.6" fill="#444" text-anchor="middle">四川</text><text x="390.6" y="401.2" font-size="3.6" fill="#444" text-anchor="middle">重庆</text><text x="381.0" y="412.9" font-size="3.6" fill="#444" text-anchor="middle">云南</text><text x="388.6" y="409.2" font-size="3.6" fill="#444" text-anchor="middle">贵州</text><text x="397.7" y="407.4" font-size="3.6" fill="#444" text-anchor="middle">湖南</text><text x="405.7" y="407.4" font-size="3.6" fill="#444" text-anchor="middle">江西</text><text x="410.8" y="411.4" font-size="3.6" fill="#444" text-anchor="middle">福建</text><text x="413.8" y="403.8" font-size="3.6" fill="#444" text-anchor="middle">浙江</text><text x="392.0" y="416.9" font-size="3.6" fill="#444" text-anchor="middle">广西</text><text x="400.7" y="419.5" font-size="3.6" fill="#444" text-anchor="middle">广东</text><text x="416.8" y="416.3" font-size="3.6" fill="#444" text-anchor="middle">台湾</text><text x="399.7" y="399.7" font-size="3.6" fill="#444" text-anchor="middle">湖北</text><text x="401.7" y="392.1" font-size="3.6" fill="#444" text-anchor="middle">河南</text><text x="407.8" y="396.1" font-size="3.6" fill="#444" text-anchor="middle">安徽</text><text x="412.2" y="394.7" font-size="3.6" fill="#444" text-anchor="middle">江苏</text><text x="416.8" y="398.7" font-size="3.6" fill="#444" text-anchor="middle">上海</text><text x="412.2" y="386.6" font-size="3.6" fill="#444" text-anchor="middle">山东</text><text x="400.7" y="383.2" font-size="3.6" fill="#444" text-anchor="middle">山西</text><text x="391.0" y="387.2" font-size="3.6" fill="#444" text-anchor="middle">陕西</text><text x="407.6" y="375.2" font-size="3.6" fill="#444" text-anchor="middle">河北</text><text x="417.9" y="374.5" font-size="3.6" fill="#444" text-anchor="middle">辽宁</text><text x="424.3" y="369.1" font-size="3.6" fill="#444" text-anchor="middle">吉林</text><text x="427.4" y="354.8" font-size="3.6" fill="#444" text-anchor="middle">黑龙江</text><text x="428" y="358.8" font-size="3.4" fill="#555" text-anchor="middle">1</text><text x="407.6" y="378.6" font-size="3.4" fill="#555" text-anchor="middle">1</text><text x="391" y="390.6" font-size="3.4" fill="#555" text-anchor="middle">1</text></g>
<rect x="-8" y="424.6" width="709" height="10" fill="#fdfdfd"/>
</svg>
</div></div></body></html>
